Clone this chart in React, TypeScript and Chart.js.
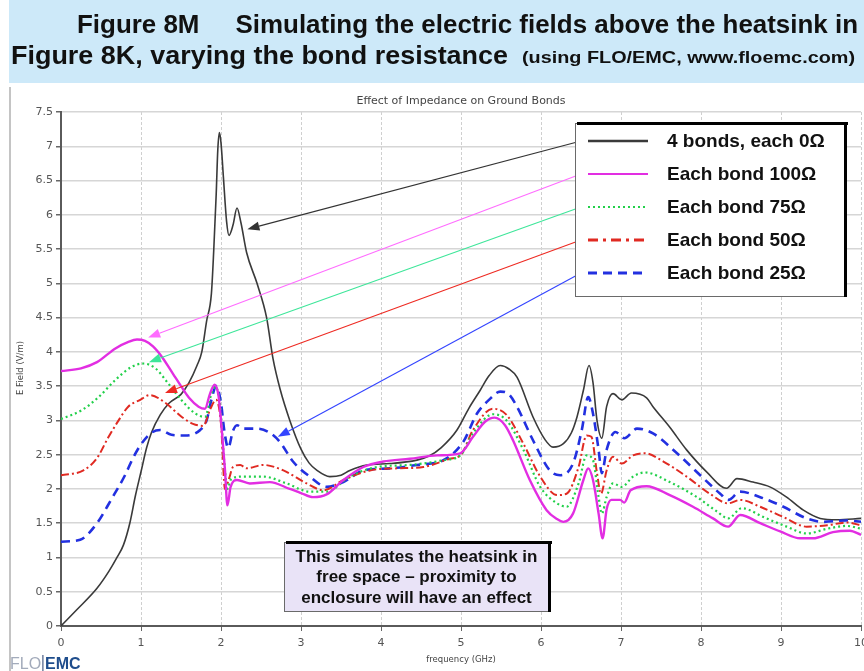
import React, { useEffect, useRef } from 'react';
import { Chart, registerables } from 'chart.js';

Chart.register(...registerables);

// ---------- data ----------
const FREQ_0 = [0, 0.2, 0.45, 0.6, 0.7, 0.78, 0.86, 0.93, 1.0, 1.07, 1.13, 1.24, 1.35, 1.5, 1.6, 1.7, 1.76, 1.82, 1.88, 1.91, 1.94, 1.96, 1.98, 2.0, 2.03, 2.07, 2.1, 2.15, 2.2, 2.25, 2.32, 2.45, 2.57, 2.65, 2.74, 2.86, 3.0, 3.1, 3.2, 3.36, 3.5, 3.61, 3.82, 4.11, 4.45, 4.6, 4.75, 4.95, 5.1, 5.24, 5.35, 5.49, 5.6, 5.7, 5.9, 6.05, 6.15, 6.28, 6.38, 6.45, 6.53, 6.6, 6.65, 6.7, 6.76, 6.82, 6.9, 7.01, 7.13, 7.32, 7.4, 7.61, 7.82, 8.07, 8.32, 8.45, 8.65, 8.86, 9.07, 9.28, 9.49, 9.7, 10];
const FIELD_0 = [0, 0.24, 0.55, 0.8, 1.0, 1.18, 1.5, 1.9, 2.25, 2.6, 2.82, 3.08, 3.25, 3.38, 3.55, 3.8, 4.0, 4.45, 4.85, 5.5, 6.3, 6.95, 7.2, 7.05, 6.55, 5.9, 5.7, 5.85, 6.1, 5.88, 5.45, 5.0, 4.5, 3.9, 3.45, 3.0, 2.58, 2.38, 2.27, 2.18, 2.2, 2.27, 2.35, 2.37, 2.42, 2.48, 2.6, 2.86, 3.18, 3.44, 3.65, 3.8, 3.75, 3.63, 3.05, 2.72, 2.61, 2.66, 2.82, 3.05, 3.44, 3.8, 3.55, 3.0, 2.74, 3.2, 3.39, 3.3, 3.4, 3.33, 3.2, 2.9, 2.57, 2.25, 2.01, 2.15, 2.1, 2.03, 1.88, 1.69, 1.57, 1.55, 1.57];

const FREQ_100 = [0, 0.25, 0.45, 0.68, 0.85, 0.95, 1.05, 1.15, 1.26, 1.4, 1.5, 1.6, 1.72, 1.8, 1.86, 1.92, 1.97, 2.01, 2.05, 2.08, 2.12, 2.2, 2.36, 2.61, 2.86, 3.0, 3.15, 3.32, 3.53, 3.78, 4.03, 4.36, 4.7, 4.99, 5.15, 5.3, 5.42, 5.55, 5.65, 5.86, 6.07, 6.2, 6.28, 6.4, 6.53, 6.59, 6.65, 6.72, 6.77, 6.82, 6.88, 6.99, 7.04, 7.12, 7.32, 7.61, 7.9, 8.15, 8.34, 8.49, 8.74, 8.99, 9.24, 9.4, 9.65, 9.86, 10];
const FIELD_100 = [3.72, 3.76, 3.85, 4.05, 4.15, 4.18, 4.16, 4.08, 3.93, 3.68, 3.5, 3.33, 3.2, 3.17, 3.38, 3.52, 3.35, 2.86, 2.27, 1.76, 2.03, 2.13, 2.08, 2.1, 2.0, 1.94, 1.88, 1.92, 2.13, 2.32, 2.4, 2.44, 2.49, 2.52, 2.76, 2.98, 3.04, 2.93, 2.71, 2.13, 1.69, 1.56, 1.52, 1.64, 2.13, 2.3, 2.13, 1.64, 1.28, 1.7, 1.84, 1.84, 1.8, 1.98, 2.04, 1.91, 1.74, 1.57, 1.45, 1.62, 1.5, 1.38, 1.28, 1.28, 1.37, 1.39, 1.33];

const FREQ_75 = [0, 0.26, 0.47, 0.68, 0.88, 1.03, 1.18, 1.34, 1.51, 1.68, 1.8, 1.88, 1.93, 1.99, 2.04, 2.08, 2.13, 2.28, 2.53, 2.82, 3.11, 3.32, 3.61, 3.95, 4.36, 4.78, 5.0, 5.15, 5.4, 5.57, 5.78, 5.99, 6.2, 6.32, 6.47, 6.57, 6.65, 6.72, 6.76, 6.82, 6.9, 7.01, 7.15, 7.3, 7.61, 7.95, 8.2, 8.34, 8.51, 8.78, 9.07, 9.32, 9.58, 9.82, 10];
const FIELD_75 = [3.02, 3.15, 3.34, 3.59, 3.78, 3.83, 3.76, 3.54, 3.29, 3.1, 3.05, 3.39, 3.49, 3.2, 2.4, 2.0, 2.15, 2.18, 2.18, 2.08, 1.96, 1.96, 2.18, 2.32, 2.35, 2.42, 2.5, 2.81, 3.09, 3.0, 2.57, 2.03, 1.79, 1.74, 2.08, 2.49, 2.42, 1.88, 1.64, 1.88, 2.08, 2.03, 2.18, 2.24, 2.1, 1.88, 1.67, 1.57, 1.72, 1.59, 1.45, 1.35, 1.42, 1.46, 1.42];

const FREQ_50 = [0, 0.28, 0.45, 0.59, 0.72, 0.84, 0.99, 1.11, 1.3, 1.51, 1.65, 1.78, 1.86, 1.94, 2.0, 2.05, 2.1, 2.15, 2.24, 2.32, 2.53, 2.78, 3.07, 3.28, 3.53, 3.86, 4.2, 4.53, 4.86, 5.0, 5.15, 5.4, 5.57, 5.78, 5.99, 6.2, 6.32, 6.47, 6.57, 6.63, 6.7, 6.75, 6.82, 6.9, 7.01, 7.15, 7.3, 7.53, 7.82, 8.11, 8.34, 8.49, 8.74, 9.03, 9.32, 9.58, 9.82, 10];
const FIELD_50 = [2.2, 2.27, 2.45, 2.75, 3.0, 3.2, 3.3, 3.37, 3.26, 3.05, 2.95, 2.92, 3.15, 3.3, 2.95, 2.0, 2.15, 2.32, 2.35, 2.3, 2.35, 2.27, 2.08, 1.98, 2.13, 2.27, 2.3, 2.32, 2.44, 2.5, 2.86, 3.17, 3.08, 2.66, 2.18, 1.91, 1.93, 2.32, 2.78, 2.76, 2.23, 1.93, 2.27, 2.47, 2.37, 2.49, 2.52, 2.4, 2.18, 1.93, 1.79, 1.84, 1.74, 1.59, 1.45, 1.47, 1.51, 1.47];

const FREQ_25 = [0, 0.24, 0.45, 0.63, 0.8, 0.9, 1.0, 1.13, 1.24, 1.38, 1.55, 1.74, 1.82, 1.88, 1.94, 2.0, 2.04, 2.09, 2.15, 2.2, 2.28, 2.45, 2.61, 2.74, 2.9, 3.11, 3.32, 3.53, 3.78, 4.11, 4.45, 4.78, 5.03, 5.2, 5.35, 5.49, 5.6, 5.7, 5.9, 6.11, 6.24, 6.4, 6.51, 6.59, 6.65, 6.72, 6.76, 6.82, 6.93, 7.04, 7.2, 7.4, 7.7, 7.99, 8.24, 8.34, 8.49, 8.74, 9.03, 9.32, 9.53, 9.82, 10];
const FIELD_25 = [1.23, 1.26, 1.5, 1.85, 2.2, 2.45, 2.65, 2.82, 2.86, 2.79, 2.78, 2.86, 3.0, 3.3, 3.5, 3.25, 2.86, 2.6, 2.85, 2.93, 2.88, 2.88, 2.82, 2.68, 2.4, 2.18, 2.03, 2.1, 2.27, 2.3, 2.35, 2.42, 2.69, 3.1, 3.3, 3.42, 3.38, 3.2, 2.71, 2.27, 2.2, 2.37, 2.86, 3.34, 3.1, 2.57, 2.23, 2.57, 2.83, 2.74, 2.88, 2.81, 2.52, 2.2, 1.93, 1.84, 1.96, 1.88, 1.74, 1.57, 1.52, 1.54, 1.52];

const SERIES_LABELS = ['4 bonds, each 0Ω', 'Each bond 100Ω', 'Each bond 75Ω', 'Each bond 50Ω', 'Each bond 25Ω'];
const SERIES_FREQ = [FREQ_0, FREQ_100, FREQ_75, FREQ_50, FREQ_25];
const SERIES_FIELD = [FIELD_0, FIELD_100, FIELD_75, FIELD_50, FIELD_25];

// arrow tips (data units) pointing from legend entries to curves
const ARROW_TIP_FREQ = [2.33, 1.09, 1.1, 1.3, 2.71];
const ARROW_TIP_FIELD = [5.79, 4.21, 3.85, 3.4, 2.76];

const X_MIN = 0, X_MAX = 10, X_STEP = 1;
const Y_MIN = 0, Y_MAX = 7.5, Y_STEP = 0.5;

const HEADER_LINE1 = 'Figure 8M     Simulating the electric fields above the heatsink in';
const HEADER_LINE2 = 'Figure 8K, varying the bond resistance';
const HEADER_NOTE = '(using FLO/EMC, www.floemc.com)';
const CHART_TITLE = 'Effect of Impedance on Ground Bonds';
const X_TITLE = 'frequency (GHz)';
const Y_TITLE = 'E Field (V/m)';
const NOTE_LINES = ['This simulates the heatsink in', 'free space – proximity to', 'enclosure will have an effect'];

// ---------- styles ----------
const STYLES = [
  { color: '#3a3a3a', width: 1.6, dash: [] as number[], legendWidth: 2.5, legendDash: [] as number[] },
  { color: '#e22ee2', width: 2.4, dash: [], legendWidth: 2, legendDash: [] },
  { color: '#22d04a', width: 2.2, dash: [2, 3], legendWidth: 2.2, legendDash: [2, 3] },
  { color: '#e02a22', width: 2, dash: [8, 3, 2, 3], legendWidth: 3, legendDash: [10, 5, 3, 5] },
  { color: '#2230e0', width: 2.6, dash: [9, 6], legendWidth: 3, legendDash: [9, 6] },
];
const ARROW_COLORS = ['#333333', '#ff6cff', '#3ee69a', '#ee2a22', '#3344ff'];

const W = 864, H = 671;
const SANS = '"Liberation Sans", Arial, sans-serif';
const SMALL = '"DejaVu Sans", Verdana, sans-serif';

function fitText(ctx: CanvasRenderingContext2D, text: string, x: number, y: number, width: number, font: string, color: string) {
  ctx.save();
  ctx.font = font;
  ctx.fillStyle = color;
  ctx.textAlign = 'left';
  ctx.textBaseline = 'alphabetic';
  const m = ctx.measureText(text).width;
  ctx.translate(x, y);
  ctx.scale(width / m, 1);
  ctx.fillText(text, 0, 0);
  ctx.restore();
}

function arrow(ctx: CanvasRenderingContext2D, x0: number, y0: number, x1: number, y1: number, color: string) {
  const ang = Math.atan2(y1 - y0, x1 - x0);
  const len = 12, half = 4.5;
  const bx = x1 - len * Math.cos(ang), by = y1 - len * Math.sin(ang);
  ctx.save();
  ctx.strokeStyle = color;
  ctx.fillStyle = color;
  ctx.lineWidth = 1.1;
  ctx.beginPath();
  ctx.moveTo(x0, y0);
  ctx.lineTo(bx, by);
  ctx.stroke();
  ctx.beginPath();
  ctx.moveTo(x1, y1);
  ctx.lineTo(bx + half * Math.sin(ang), by - half * Math.cos(ang));
  ctx.lineTo(bx - half * Math.sin(ang), by + half * Math.cos(ang));
  ctx.closePath();
  ctx.fill();
  ctx.restore();
}

function shadowBox(ctx: CanvasRenderingContext2D, x: number, y: number, w: number, h: number, fill: string) {
  ctx.save();
  ctx.fillStyle = fill;
  ctx.fillRect(x, y, w, h);
  ctx.strokeStyle = '#6a6a6a';
  ctx.lineWidth = 1;
  ctx.strokeRect(x + 0.5, y + 0.5, w - 1, h - 1);
  ctx.fillStyle = '#000';
  ctx.fillRect(x + 2, y - 1, w + 1, 3);
  ctx.fillRect(x + w - 1, y - 1, 3, h + 1);
  ctx.restore();
}

const decor = {
  id: 'decor',
  beforeDraw(chart: any) {
    const ctx: CanvasRenderingContext2D = chart.ctx;
    ctx.save();
    ctx.fillStyle = '#ffffff';
    ctx.fillRect(0, 0, W, H);
    // header band
    ctx.fillStyle = '#cde9f9';
    ctx.fillRect(9, 0, W - 9, 83);
    fitText(ctx, HEADER_LINE1, 77, 33, 781, `bold 25px ${SANS}`, '#111');
    fitText(ctx, HEADER_LINE2, 11, 64, 497, `bold 25px ${SANS}`, '#111');
    fitText(ctx, HEADER_NOTE, 522, 63, 333, `bold 17px ${SANS}`, '#111');
    // frame line on the left
    ctx.fillStyle = '#c4c4c4';
    ctx.fillRect(9, 87, 2, H - 87);
    ctx.restore();
  },
  afterDatasetsDraw(chart: any) {
    const ctx: CanvasRenderingContext2D = chart.ctx;
    const xs = chart.scales.x, ys = chart.scales.y;
    const area = chart.chartArea;
    ctx.save();
    // chart title
    ctx.fillStyle = '#444';
    ctx.font = `11px ${SMALL}`;
    ctx.textAlign = 'center';
    ctx.textBaseline = 'middle';
    ctx.fillText(CHART_TITLE, (area.left + area.right) / 2, area.top - 11);
    // axis titles
    ctx.font = `8.5px ${SMALL}`;
    ctx.fillText(X_TITLE, (area.left + area.right) / 2, 660);
    ctx.save();
    ctx.translate(21, 368);
    ctx.rotate(-Math.PI / 2);
    ctx.fillText(Y_TITLE, 0, 0);
    ctx.restore();

    // legend geometry
    const LX = 575, LY = 123, LW = 270, LH = 174, ROW0 = 18, ROW = 33;
    // arrows
    for (let i = 0; i < ARROW_TIP_FREQ.length; i++) {
      const ty = LY + ROW0 + i * ROW;
      arrow(ctx, LX + 6, ty, xs.getPixelForValue(ARROW_TIP_FREQ[i]), ys.getPixelForValue(ARROW_TIP_FIELD[i]), ARROW_COLORS[i]);
    }
    // legend box
    shadowBox(ctx, LX, LY, LW, LH, '#ffffff');
    const ds = chart.data.datasets;
    for (let i = 0; i < ds.length; i++) {
      const y = LY + ROW0 + i * ROW;
      const st = STYLES[i];
      ctx.save();
      ctx.strokeStyle = st.color;
      ctx.lineWidth = st.legendWidth;
      ctx.setLineDash(st.legendDash);
      ctx.beginPath();
      ctx.moveTo(LX + 13, y);
      ctx.lineTo(LX + 73, y);
      ctx.stroke();
      ctx.restore();
      ctx.fillStyle = '#111';
      ctx.font = `bold 19px ${SANS}`;
      ctx.textAlign = 'left';
      ctx.textBaseline = 'middle';
      ctx.fillText(ds[i].label, LX + 92, y + 1);
    }

    // note box
    const NX = 284, NY = 542, NW = 265, NH = 70;
    shadowBox(ctx, NX, NY, NW, NH, '#e9e3f7');
    ctx.fillStyle = '#111';
    ctx.font = `bold 17px ${SANS}`;
    ctx.textAlign = 'center';
    ctx.textBaseline = 'middle';
    NOTE_LINES.forEach((t, i) => ctx.fillText(t, NX + NW / 2, NY + 15 + i * 20.5));

    // logo
    ctx.textAlign = 'left';
    ctx.textBaseline = 'alphabetic';
    ctx.font = `16px ${SANS}`;
    ctx.fillStyle = '#a3abbb';
    ctx.fillText('FLO', 10, 669);
    const fw = ctx.measureText('FLO').width;
    ctx.fillStyle = '#6f7f9f';
    ctx.fillRect(10 + fw + 1, 655, 1.5, 16);
    ctx.font = `bold 16px ${SANS}`;
    ctx.fillStyle = '#1f4d8c';
    ctx.fillText('EMC', 10 + fw + 4, 669);
    ctx.restore();
  },
};

export default function App() {
  const ref = useRef<HTMLCanvasElement | null>(null);
  useEffect(() => {
    if (!ref.current) return;
    const datasets = SERIES_LABELS.map((label, i) => ({
      label,
      data: SERIES_FREQ[i].map((x, j) => ({ x, y: SERIES_FIELD[i][j] })),
      borderColor: STYLES[i].color,
      borderWidth: STYLES[i].width,
      borderDash: STYLES[i].dash,
      pointRadius: 0,
      fill: false,
      cubicInterpolationMode: 'monotone' as const,
      order: i === 0 ? 1 : 0,
    }));
    const chart = new Chart(ref.current, {
      type: 'line',
      data: { datasets },
      options: {
        responsive: false,
        animation: false,
        devicePixelRatio: 1,
        layout: { padding: { top: 112, left: 0, right: 3, bottom: 0 } },
        plugins: { legend: { display: false }, title: { display: false }, tooltip: { enabled: false } },
        scales: {
          x: {
            type: 'linear',
            min: X_MIN,
            max: X_MAX,
            ticks: { stepSize: X_STEP, color: '#555', font: { family: SMALL, size: 11 }, padding: 6, maxRotation: 0 },
            grid: { color: '#cfcfcf', lineWidth: 1, tickLength: 5, tickColor: '#666' },
            border: { color: '#5a5a5a', width: 2, dash: [3, 2] },
            afterFit: (s: any) => { s.height = 45; s.paddingLeft = 0; s.paddingRight = 0; },
          },
          y: {
            type: 'linear',
            min: Y_MIN,
            max: Y_MAX,
            ticks: { stepSize: Y_STEP, color: '#555', font: { family: SMALL, size: 11 }, padding: 3, callback: (v: any) => String(v) },
            grid: { color: '#d6d6d6', lineWidth: 1.5, tickLength: 5, tickColor: '#666' },
            border: { color: '#5a5a5a', width: 2 },
            afterFit: (s: any) => { s.width = 61; s.paddingTop = 0; s.paddingBottom = 0; },
          },
        },
      },
      plugins: [decor],
    });
    return () => chart.destroy();
  }, []);
  return (
    <div style={{ position: 'absolute', left: 0, top: 0, width: W, height: H }}>
      <canvas ref={ref} width={W} height={H} style={{ display: 'block', width: W, height: H }} />
    </div>
  );
}
